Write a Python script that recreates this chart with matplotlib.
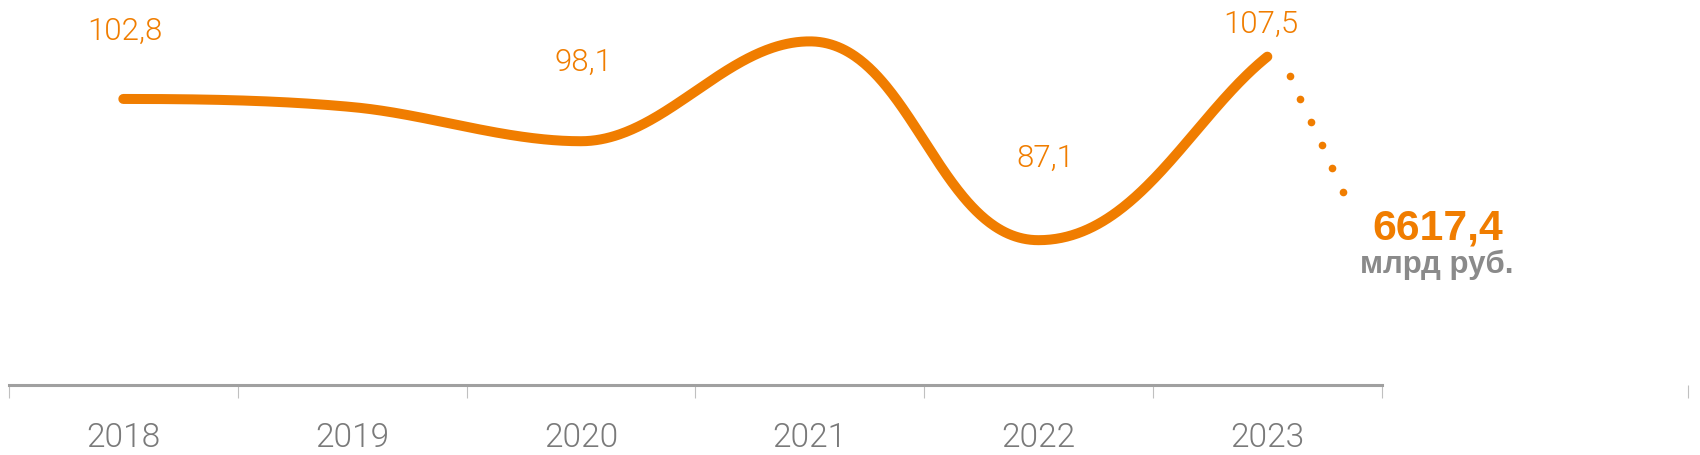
import numpy as np
import matplotlib
matplotlib.use("Agg")
import matplotlib.pyplot as plt
from matplotlib.transforms import offset_copy

years = ["2018", "2019", "2020", "2021", "2022", "2023"]
values = [102.8, 101.9, 98.1, 109.2, 87.1, 107.5]
labelled = [0, 2, 4, 5]
total_value = "6617,4"
total_unit = "млрд руб."

ORANGE = "#F07D00"
GREY_TEXT = "#7a7a7a"
FONT = "Liberation Sans"
LIGHT = "Roboto"


def smooth_path(ax, xv, yv, per_seg=150):
    """Bezier path through the points, built in screen space: handles are
    horizontal at the first point, peaks and troughs, follow the
    neighbours elsewhere, and are a third of the chord long."""
    pts = ax.transData.transform(np.column_stack([xv, yv]))
    n = len(pts)
    d = np.zeros((n, 2))
    for i in range(n):
        if i == 0:
            d[i] = (1, 0)
        elif i == n - 1:
            d[i] = pts[i] - pts[i - 1]
        elif (yv[i] - yv[i - 1]) * (yv[i + 1] - yv[i]) <= 0:
            d[i] = (1, 0)
        else:
            d[i] = pts[i + 1] - pts[i - 1]
        d[i] /= np.hypot(*d[i])
    u = np.linspace(0, 1, per_seg)[:, None]
    curve = []
    for i in range(n - 1):
        p0, p3 = pts[i], pts[i + 1]
        hl = np.hypot(*(p3 - p0)) / 3
        p1 = p0 + hl * d[i]
        p2 = p3 - hl * d[i + 1]
        curve.append((1 - u)**3 * p0 + 3 * (1 - u)**2 * u * p1 + 3 * (1 - u) * u**2 * p2 + u**3 * p3)
    curve = ax.transData.inverted().transform(np.vstack(curve))
    return curve[:, 0], curve[:, 1]


fig = plt.figure(figsize=(17, 4.55), dpi=100)
ax = fig.add_axes([0, 70 / 455, 1, 385 / 455])
ax.set_xlim(-0.539, 6.891)
ax.set_ylim(71.0, 113.8)

x = np.arange(len(years))
xs, ys = smooth_path(ax, x, values)
ax.plot(xs, ys, color=ORANGE, lw=7.2, solid_capstyle="round")

# dotted leader from the last point down to the total
for k in range(6):
    tr = offset_copy(ax.transData, fig=fig, x=16 + 7.7 * k, y=-13.7 - 16.7 * k, units="points")
    ax.plot([x[-1]], [values[-1]], "o", color=ORANGE, ms=5.5, mec="none", transform=tr)

offsets = {0: (1, 49), 2: (1.5, 56.5), 4: (5, 59), 5: (-5, 23)}
for i in labelled:
    ax.annotate(f"{values[i]:.1f}".replace(".", ","), (x[i], values[i]),
                xytext=offsets[i], textcoords="offset points", ha="center", va="center",
                color=ORANGE, fontsize=22.5, family=LIGHT, fontweight=300)

ax.annotate(total_value, (x[-1], values[-1]), xytext=(123, -124), textcoords="offset points",
            ha="center", va="center", color=ORANGE, fontsize=30.8, fontweight="bold", family=FONT)
ax.annotate(total_unit, (x[-1], values[-1]), xytext=(122, -150), textcoords="offset points",
            ha="center", va="center", color="#8a8a8a", fontsize=22.5, fontweight="bold", family=FONT)

for side in ["left", "top", "right"]:
    ax.spines[side].set_visible(False)
ax.spines["bottom"].set_bounds(-0.5, 5.5)
ax.spines["bottom"].set_color("#a0a0a0")
ax.spines["bottom"].set_linewidth(2.2)
ax.set_yticks([])

ax.set_xticks(x)
ax.set_xticklabels(years, color=GREY_TEXT, fontsize=24, family=LIGHT, fontweight=300)
ax.tick_params(axis="x", which="major", length=0, pad=26.5)
ax.set_xticks(list(np.arange(-0.5, 6)) + [6.84], minor=True)
ax.tick_params(axis="x", which="minor", length=9, width=0.8, color="#c0c0c0")

fig.savefig("out.png", dpi=100)
